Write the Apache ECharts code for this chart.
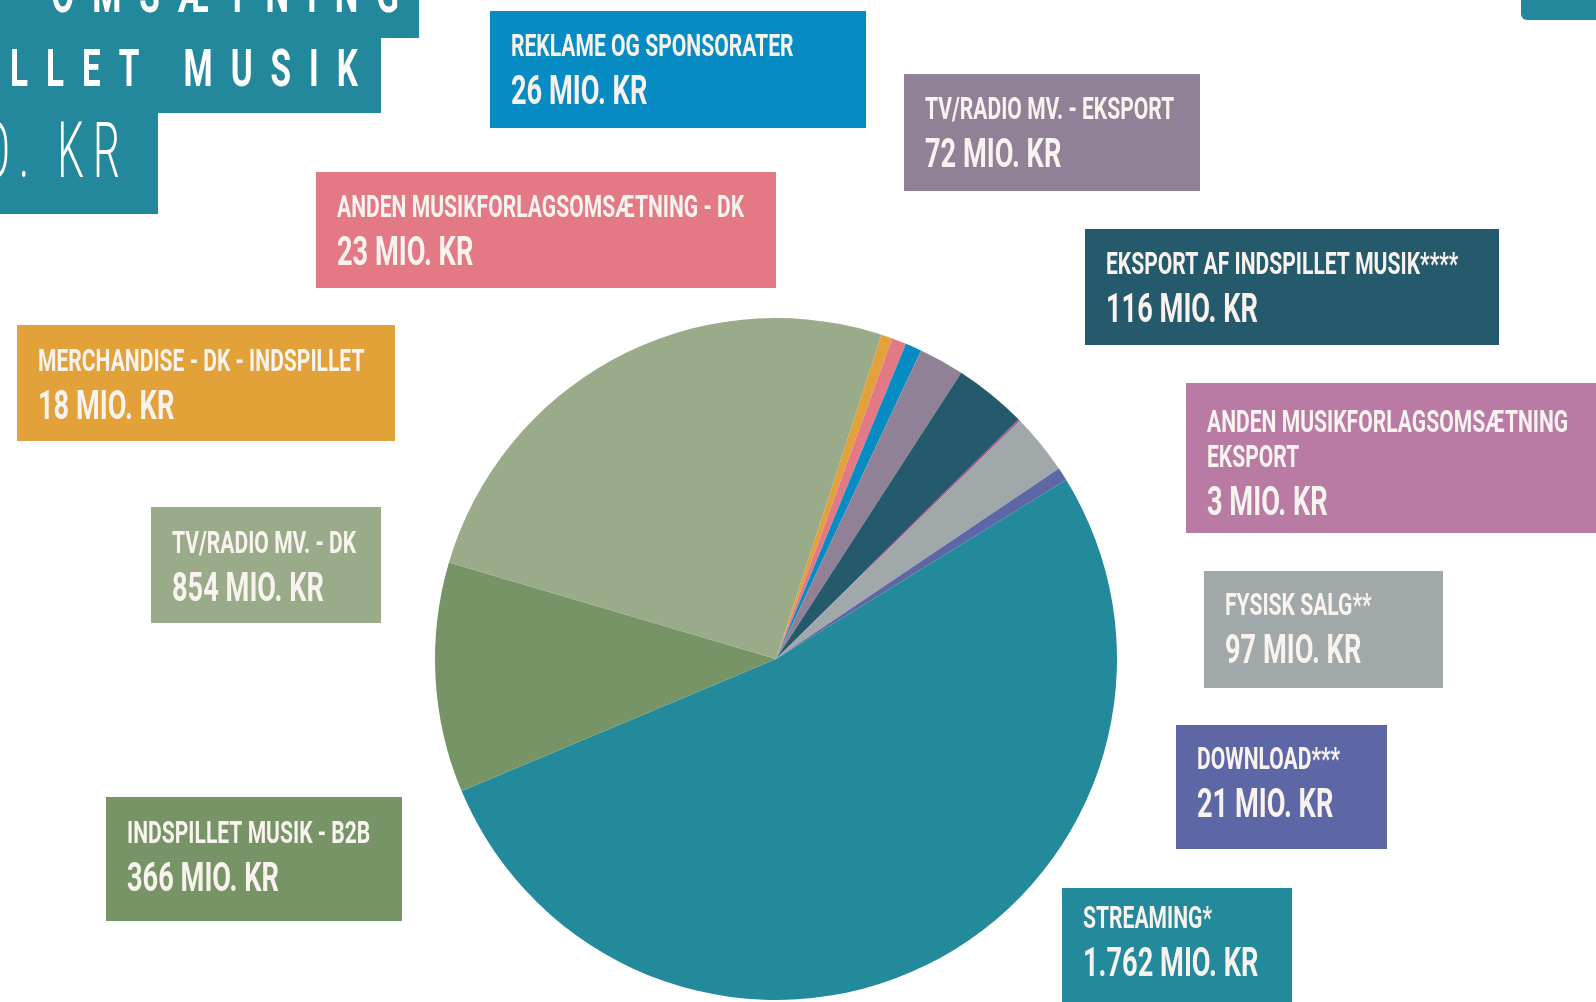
<!DOCTYPE html>
<html>
<head>
<meta charset="utf-8">
<title>Omsætning indspillet musik</title>
<script src="https://cdn.jsdelivr.net/npm/echarts@6/dist/echarts.min.js"></script>
<style>
  html, body { margin: 0; padding: 0; background: #fff; }
  #chart { width: 1596px; height: 1002px; }
</style>
</head>
<body>
<div id="chart"></div>
<script>
// slices in clockwise order, starting at the top
var names = [
  'MERCHANDISE - DK - INDSPILLET',
  'ANDEN MUSIKFORLAGSOMSÆTNING - DK',
  'REKLAME OG SPONSORATER',
  'TV/RADIO MV. - EKSPORT',
  'EKSPORT AF INDSPILLET MUSIK****',
  'ANDEN MUSIKFORLAGSOMSÆTNING\nEKSPORT',
  'FYSISK SALG**',
  'DOWNLOAD***',
  'STREAMING*',
  'INDSPILLET MUSIK - B2B',
  'TV/RADIO MV. - DK'
]
var values = [18, 23, 26, 72, 116, 3, 97, 21, 1762, 366, 854]
var unit = 'MIO. KR'

var sliceColors = ['#e3a139', '#e37985', '#068bc2', '#918196', '#255a6c', '#a84e8a',
  '#a1a8aa', '#5e67a6', '#228a9b', '#769466', '#9aab89']
var boxColors = ['#e3a139', '#e37985', '#068bc2', '#918196', '#255a6c', '#b97ba4',
  '#a1a8aa', '#5e67a6', '#228a9b', '#769466', '#9aab89']

// label boxes: x, y, w, h, first line offset
var boxes = [
  [17, 325, 378, 116, 38],
  [316, 172, 460, 116, 37],
  [490, 11, 376, 117, 37],
  [904, 74, 296, 117, 37],
  [1085, 229, 414, 116, 37],
  [1186, 383, 420, 150, 41],
  [1204, 571, 239, 117, 36],
  [1176, 725, 211, 124, 36],
  [1062, 888, 230, 114, 32],
  [106, 797, 296, 124, 38],
  [151, 507, 230, 116, 38]
]

var titleLines = ['SAMLET OMSÆTNING', 'INDSPILLET MUSIK']
var titleUnit = 'MIO. KR'

var textColor = '#f8f3ee'
var titleColor = '#23889b'
var font = 'Roboto'

// 1762 -> 1.762
function fmt(n) {
  return String(n).replace(/\B(?=(\d{3})+(?!\d))/g, '.')
}

var graphics = []

// label boxes
names.forEach(function (name, i) {
  var b = boxes[i]
  graphics.push({type: 'rect', shape: {x: b[0], y: b[1], width: b[2], height: b[3]}, style: {fill: boxColors[i]}})
  var lines = name.split('\n')
  var y = b[1] + b[4]
  lines.forEach(function (l, k) {
    graphics.push({
      type: 'text', x: b[0] + 21, y: y + k * 35, scaleX: 0.68,
      style: {text: l, fill: textColor, fontSize: 31, fontWeight: 'bold', fontFamily: font,
        align: 'left', verticalAlign: 'middle'}
    })
  })
  graphics.push({
    type: 'text', x: b[0] + 21, y: y + (lines.length - 1) * 35 + 46, scaleX: 0.68,
    style: {text: fmt(values[i]) + ' ' + unit, fill: textColor, fontSize: 40, fontWeight: 'bold', fontFamily: font,
      align: 'left', verticalAlign: 'middle'}
  })
})

// title block in the top left corner (cut by the page edge)
graphics.push({type: 'rect', shape: {x: 0, y: 0, width: 419, height: 38}, style: {fill: titleColor}})
graphics.push({type: 'rect', shape: {x: 0, y: 37, width: 381, height: 76}, style: {fill: titleColor}})
graphics.push({type: 'rect', shape: {x: 0, y: 112, width: 158, height: 102}, style: {fill: titleColor}})
graphics.push({type: 'rect', shape: {x: 1521, y: -10, width: 100, height: 30, r: 6}, style: {fill: titleColor}})

var ctx = document.createElement('canvas').getContext('2d')
// letter by letter, right aligned, with extra spacing
function spaced(text, rightX, midY, size, weight, sx, gap) {
  ctx.font = weight + ' ' + size + 'px ' + font
  var chars = text.split('')
  var w = chars.map(function (c) { return ctx.measureText(c).width * sx })
  var total = w.reduce(function (a, c) { return a + c }, 0) + gap * (chars.length - 1)
  var x = rightX - total
  chars.forEach(function (c, i) {
    if (c !== ' ') {
      graphics.push({
        type: 'text', x: x, y: midY, scaleX: sx,
        style: {text: c, fill: '#fff', fontSize: size, fontWeight: weight, fontFamily: font,
          align: 'left', verticalAlign: 'middle'}
      })
    }
    x += w[i] + gap
  })
}
spaced(titleLines[0], 399, -1, 52, 'bold', 0.64, 18)
spaced(titleLines[1], 358, 73, 52, 'bold', 0.64, 18)
spaced(titleUnit, 120, 158, 77, 300, 0.55, 9)

var chart = echarts.init(document.getElementById('chart'), null, {renderer: 'canvas'})
chart.setOption({
  animation: false,
  backgroundColor: '#fff',
  series: [{
    type: 'pie',
    center: [776, 659],
    radius: 341,
    startAngle: 72,
    clockwise: true,
    silent: true,
    label: {show: false},
    labelLine: {show: false},
    itemStyle: {borderWidth: 0},
    data: names.map(function (n, i) {
      return {name: n, value: values[i], itemStyle: {color: sliceColors[i]}}
    })
  }],
  graphic: graphics
})
</script>
</body>
</html>
